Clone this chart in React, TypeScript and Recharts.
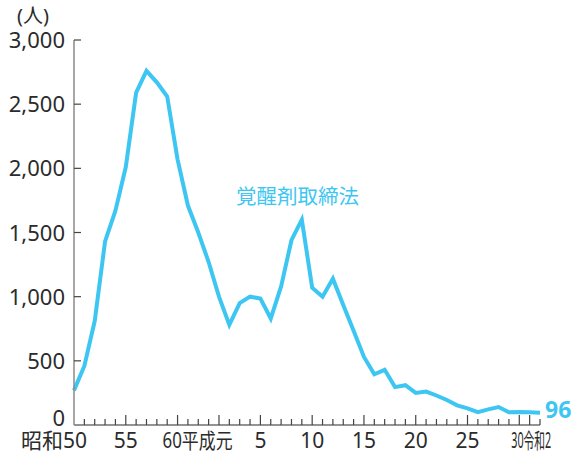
import { LineChart, Line, XAxis, YAxis } from "recharts";

// 覚醒剤取締法違反 検挙人員（昭和50年〜令和2年）
const years = [
  1975, 1976, 1977, 1978, 1979, 1980, 1981, 1982, 1983, 1984,
  1985, 1986, 1987, 1988, 1989, 1990, 1991, 1992, 1993, 1994,
  1995, 1996, 1997, 1998, 1999, 2000, 2001, 2002, 2003, 2004,
  2005, 2006, 2007, 2008, 2009, 2010, 2011, 2012, 2013, 2014,
  2015, 2016, 2017, 2018, 2019, 2020,
];
const arrests = [
  270, 460, 810, 1430, 1670, 2010, 2590, 2760, 2670, 2560,
  2070, 1710, 1500, 1270, 1000, 780, 950, 1000, 985, 830,
  1080, 1440, 1600, 1070, 1000, 1140, 935, 735, 530, 395,
  430, 295, 310, 250, 260, 230, 195, 153, 130, 100,
  122, 140, 99, 101, 99, 96,
];
const yTicks = [0, 500, 1000, 1500, 2000, 2500, 3000];
const majorYears = [1980, 1985, 1989, 1993, 1998, 2003, 2008, 2013, 2018, 2019];
const labelYears = [1975, 1980, 1985, 1993, 1998, 2003, 2008, 2013, 2018];
const labelTexts = ["昭和50", "55", "60平成元", "5", "10", "15", "20", "25", "30令和2"];
const seriesName = "覚醒剤取締法";
const unitLabel = "(人)";

const data = years.map((year, i) => ({ year, value: arrests[i] }));

const BLUE = "#3ec6f2";
const TEXT = "#2b2b2b";
const FONT = "'Noto Sans', 'Noto Sans CJK JP', sans-serif";

function XTick(props: any) {
  const { x, y, payload } = props;
  const yr = payload.value as number;
  const major = majorYears.includes(yr);
  const idx = labelYears.indexOf(yr);
  let label = null;
  if (idx >= 0) {
    const text = labelTexts[idx];
    const base = { y: y + 23, fontSize: 21, fill: TEXT, fontFamily: FONT };
    if (yr === 1975) {
      label = <text {...base} x={x + 13} textAnchor="end">{text}</text>;
    } else if (yr === 1985) {
      label = (
        <text {...base} x={x - 15} textAnchor="start" textLength={70} lengthAdjust="spacingAndGlyphs">
          {text}
        </text>
      );
    } else if (yr === 2018) {
      label = (
        <text {...base} x={x - 8} textAnchor="start" textLength={40} lengthAdjust="spacingAndGlyphs">
          {text}
        </text>
      );
    } else {
      label = <text {...base} x={x} textAnchor="middle">{text}</text>;
    }
  }
  return (
    <g>
      {yr > 1975 && (
        <line x1={x} y1={y} x2={x} y2={y - (major ? 10 : 6)} stroke="#444" strokeWidth={1.2} />
      )}
      {label}
    </g>
  );
}

function YTick(props: any) {
  const { x, y, payload } = props;
  const v = payload.value as number;
  return (
    <g>
      {v > 0 && <line x1={x} y1={y} x2={x + 7} y2={y} stroke="#444" strokeWidth={1.2} />}
      <text
        x={x - 9}
        y={y + 8 - (v === 0 ? 7 : 0)}
        textAnchor="end"
        fontSize={22}
        fill={TEXT}
        fontFamily={FONT}
      >
        {v.toLocaleString("en-US")}
      </text>
    </g>
  );
}

function EndLabel(props: any) {
  const { x, y, index, value } = props;
  if (index !== data.length - 1) return null;
  return (
    <text x={x + 5} y={y + 5} fontSize={23} fontWeight="bold" fill={BLUE} fontFamily={FONT}>
      {value}
    </text>
  );
}

export default function App() {
  return (
    <div style={{ position: "absolute", left: 0, top: 0, width: 571, height: 455, background: "#fff" }}>
      <LineChart width={571} height={455} data={data} margin={{ top: 40, right: 31, bottom: 0, left: 0 }}>
        <XAxis
          dataKey="year"
          type="number"
          domain={[1975, 2020]}
          ticks={years}
          interval={0}
          height={30}
          tickSize={0}
          tickMargin={0}
          tickLine={false}
          axisLine={{ stroke: "#6f6f6f", strokeWidth: 1.5 }}
          tick={<XTick />}
        />
        <YAxis
          type="number"
          domain={[0, 3000]}
          ticks={yTicks}
          interval={0}
          width={74}
          tickSize={0}
          tickMargin={0}
          tickLine={false}
          axisLine={{ stroke: "#8a8a8a", strokeWidth: 1.5 }}
          tick={<YTick />}
        />
        <Line
          dataKey="value"
          name={seriesName}
          stroke={BLUE}
          strokeWidth={4}
          dot={false}
          isAnimationActive={false}
          label={<EndLabel />}
        />
      </LineChart>
      <svg
        width={571}
        height={455}
        style={{ position: "absolute", left: 0, top: 0, pointerEvents: "none" }}
      >
        <text x={17} y={23} fontSize={20} fill={TEXT} fontFamily={FONT}>
          {unitLabel}
        </text>
        <text x={236} y={204} fontSize={20.5} fill={BLUE} fontFamily={FONT}>
          {seriesName}
        </text>
      </svg>
    </div>
  );
}
